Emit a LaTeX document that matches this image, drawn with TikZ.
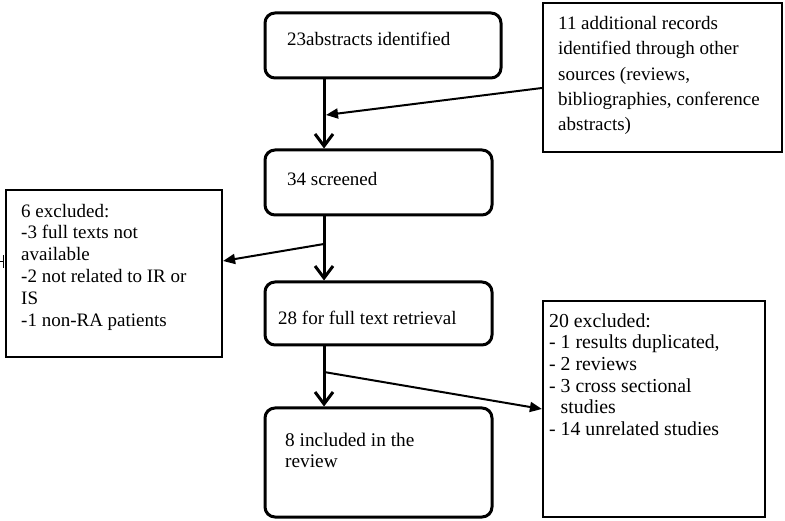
\documentclass[tikz,border=0pt]{standalone}
\usepackage{fontspec}
\setmainfont{Liberation Serif}
\usetikzlibrary{arrows.meta}
\tikzset{
  rbox/.style={draw, line width=3pt, rounded corners=10pt, inner sep=0pt},
  sbox/.style={draw, line width=2.2pt, inner sep=0pt},
  txt/.style={inner sep=0pt, align=left},
  flow/.style={line width=3pt, -{Straight Barb[length=12pt,width=18pt]}},
  side/.style={line width=2pt, -{Triangle[length=12pt,width=10pt]}}
}
\begin{document}
\begin{tikzpicture}[x=1pt,y=-1pt]
	\useasboundingbox (0,0) rectangle (785,521);
	% boxes
	\node[rbox, minimum width=236pt, minimum height=65pt] (ident) at (383,45.5) {};
	\node[sbox, minimum width=239pt, minimum height=149pt] (other) at (662.5,77.5) {};
	\node[rbox, minimum width=227pt, minimum height=65pt] (screen) at (378.5,182.5) {};
	\node[sbox, minimum width=216pt, minimum height=167pt] (excl1) at (114,273.5) {};
	\node[rbox, minimum width=227pt, minimum height=63pt] (full) at (378.5,313.5) {};
	\node[rbox, minimum width=227pt, minimum height=109pt] (incl) at (378.5,462.5) {};
	\node[sbox, minimum width=222pt, minimum height=216pt] (excl2) at (654,409) {};
	% texts
	\node[txt, anchor=base west, font=\fontsize{19}{22}\selectfont] (tident) at (287,46) {23abstracts identified};
	\node[txt, anchor=north west, font=\fontsize{19}{25.3}\selectfont] (tother) at (558,16.3)
		{11 additional records\\ identified through other\\ sources (reviews,\\ bibliographies, conference\\ abstracts)};
	\node[txt, anchor=base west, font=\fontsize{19}{22}\selectfont] (tscreen) at (287,185.7) {34 screened};
	\node[txt, anchor=north west, font=\fontsize{19}{21.8}\selectfont] (texcl1) at (21,203.7)
		{6 excluded:\\ -3 full texts not\\ available\\ -2 not related to IR or\\ IS\\ -1 non-RA patients};
	\node[txt, anchor=base west, font=\fontsize{19}{22}\selectfont] (tfull) at (278,325) {28 for full text retrieval};
	\node[txt, anchor=north west, font=\fontsize{19.3}{21}\selectfont] (tincl) at (285,433)
		{8 included in the\\ review};
	\node[txt, anchor=north west, font=\fontsize{19.8}{21.7}\selectfont] (texcl2) at (549,313.2)
		{20 excluded:\\ - 1 results duplicated,\\ - 2 reviews\\ - 3 cross sectional\\ \phantom{- }studies\\ - 14 unrelated studies};
	% connectors
	\coordinate (spine) at (324,0);
	\coordinate (j1) at (326,115);
	\coordinate (j2) at (324,244);
	\coordinate (j3) at (324,372);
	\draw[flow] (ident.south -| spine) -- (screen.north -| spine);
	\draw[flow] (screen.south -| spine) -- (full.north -| spine);
	\draw[flow] (full.south -| spine) -- (incl.north -| spine);
	\draw[side] ([yshift=-10.5pt]other.west) -- (j1);
	\draw[side] (j2) -- ([yshift=12.5pt]excl1.east);
	\draw[side] (j3) -- (excl2.west);
	% stray tick on the left edge
	\draw[line width=1pt] (0,262) -- (3.5,262);
	\draw[line width=1pt] (3.5,255) -- (3.5,268);
\end{tikzpicture}
\end{document}
